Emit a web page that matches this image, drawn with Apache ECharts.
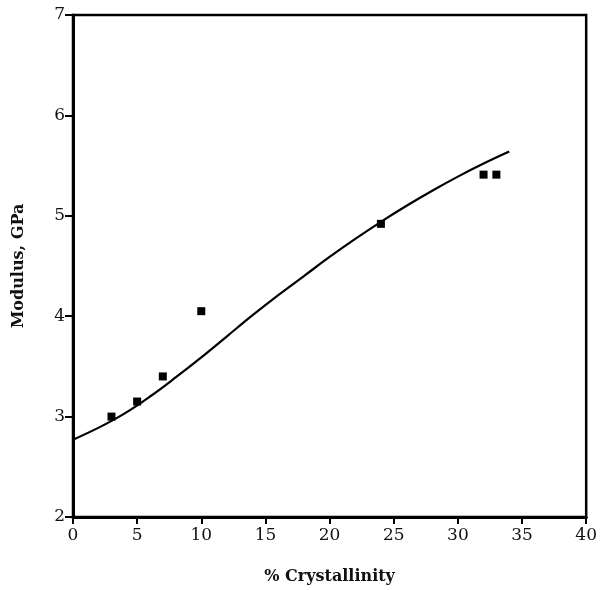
<!DOCTYPE html>
<html><head><meta charset="utf-8">
<script src="https://cdn.jsdelivr.net/npm/echarts@6/dist/echarts.min.js"></script>
<style>html,body{margin:0;padding:0;background:#fff}#c{width:600px;height:590px}</style>
</head><body><div id="c"></div>
<script>
const pointX = [3, 5, 7, 10, 24, 32, 33];
const pointY = [3.0, 3.15, 3.4, 4.05, 4.92, 5.41, 5.41];
const curveX = [0, 2, 4, 6, 8, 10, 12, 14, 16, 18, 20, 22, 24, 26, 28, 30, 32, 34];
const curveY = [2.77, 2.89, 3.03, 3.20, 3.39, 3.59, 3.80, 4.01, 4.21, 4.40, 4.59, 4.77, 4.94, 5.10, 5.25, 5.39, 5.52, 5.64];
const xTitle = '% Crystallinity';
const yTitle = 'Modulus, GPa';

const chart = echarts.init(document.getElementById('c'));
const font = 'DejaVu Serif';
chart.setOption({
  animation: false,
  grid: {left: 73, right: 13, top: 15, bottom: 71, show: true, borderColor: '#000', borderWidth: 2.5, backgroundColor: 'transparent'},
  xAxis: {
    type: 'value', min: 0, max: 40, interval: 5,
    name: xTitle, nameLocation: 'middle', nameGap: 52,
    nameTextStyle: {fontFamily: font, fontSize: 16, fontWeight: 'bold', color: '#111'},
    axisLine: {show: true, lineStyle: {color: '#000', width: 3}},
    axisTick: {show: true, inside: false, length: 7, lineStyle: {color: '#000', width: 2}},
    axisLabel: {fontFamily: font, fontSize: 17, color: '#111', margin: 10},
    splitLine: {show: false}
  },
  yAxis: {
    type: 'value', min: 2, max: 7, interval: 1,
    name: yTitle, nameLocation: 'middle', nameGap: 46, nameRotate: 90,
    nameTextStyle: {fontFamily: font, fontSize: 16, fontWeight: 'bold', color: '#111'},
    axisLine: {show: true, lineStyle: {color: '#000', width: 3}},
    axisTick: {show: true, inside: false, length: 8, lineStyle: {color: '#000', width: 2}},
    axisLabel: {fontFamily: font, fontSize: 17, color: '#111', margin: 8},
    splitLine: {show: false}
  },
  series: [
    {
      type: 'line', smooth: 0.4, showSymbol: false,
      data: curveX.map((x, i) => [x, curveY[i]]),
      lineStyle: {color: '#000', width: 2.2}
    },
    {
      type: 'scatter', symbol: 'rect', symbolSize: 8,
      data: pointX.map((x, i) => [x, pointY[i]]),
      itemStyle: {color: '#000', opacity: 1}
    }
  ]
});
</script></body></html>
